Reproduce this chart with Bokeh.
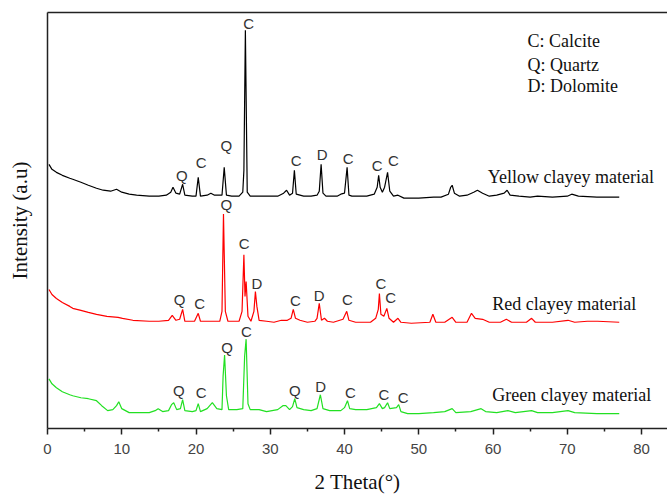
from bokeh.plotting import figure
from bokeh.models import Range1d, FixedTicker, ColumnDataSource, LinearAxis
from bokeh.core.properties import value
from bokeh.embed import file_html
from bokeh.resources import INLINE

# ---- data (2 Theta in degrees, intensity in arbitrary units, stacked) ----
yellow_x = [0.2, 0.6, 1.2, 2.0, 3.0, 3.4, 4.5, 5.5, 6.6, 7.5, 8.5, 9.3, 10.0, 11.0, 12.0, 13.7, 15.0, 16.0,
            16.6, 16.9, 17.3, 17.8, 18.2, 18.5, 19.5, 20.0, 20.3, 20.6, 21.5, 22.0, 22.5, 23.5, 23.8, 24.1,
            24.8, 25.8, 26.3, 26.45, 26.65, 26.9, 27.3, 29.0, 31.0, 31.8, 32.2, 32.6, 33.0, 33.25, 33.5,
            34.5, 35.5, 36.3, 36.6, 36.85, 37.1, 37.5, 39.0, 39.5, 40.0, 40.35, 40.6, 41.0, 43.0, 44.0,
            44.4, 44.6, 44.8, 45.1, 45.4, 45.8, 46.1, 46.6, 47.2, 48.0, 50.0, 52.0, 53.0, 54.0, 54.3, 54.5,
            54.8, 55.5, 56.5, 57.4, 57.9, 58.6, 59.5, 60.5, 61.5, 61.9, 62.3, 63.5, 65.0, 66.0, 68.0, 70.0,
            70.6, 71.5, 74.0, 77.0]
yellow_y = [266, 261, 258, 255, 252, 251, 248, 245, 242, 240, 239, 241, 238, 236, 235, 234, 234, 235,
            238, 243, 237, 236, 246, 235, 234, 234, 253, 234, 235, 237, 235, 235, 263, 235,
            234, 234, 238, 260, 401, 238, 234, 234, 234, 237, 240, 235, 237, 260, 236,
            234, 234, 235, 239, 266, 237, 234, 234, 236, 237, 263, 235, 234, 234, 236,
            243, 255, 243, 238, 243, 258, 239, 234, 235, 232, 232, 233, 233, 236, 243, 245,
            237, 234, 235, 238, 240, 237, 234, 235, 237, 240, 235, 234, 233, 234, 233, 234,
            236, 234, 233, 233]

red_x = [0.2, 0.6, 1.2, 2.0, 3.0, 3.4, 4.5, 5.5, 6.6, 8.0, 9.5, 10.1, 11.5, 13.7, 15.0, 16.3, 16.8, 17.3,
         17.8, 18.2, 18.5, 19.8, 20.3, 20.6, 22.0, 23.2, 23.5, 23.7, 23.95, 24.3, 25.8, 26.2, 26.45, 26.6,
         26.75, 27.0, 27.4, 27.8, 28.0, 28.2, 28.5, 29.5, 30.5, 31.5, 32.3, 32.8, 33.1, 33.4, 34.0, 35.0,
         36.0, 36.3, 36.6, 36.9, 37.3, 37.7, 38.5, 39.8, 40.3, 40.6, 41.5, 43.5, 44.2, 44.55, 44.7, 44.9,
         45.3, 45.7, 46.0, 46.6, 47.2, 47.6, 49.0, 51.5, 51.9, 52.3, 53.5, 54.5, 55.0, 56.5, 57.1, 57.6,
         58.6, 59.5, 61.0, 61.8, 62.5, 64.5, 65.2, 65.7, 68.0, 70.1, 71.0, 72.7, 74.1, 77.0]
red_y = [140, 135, 131, 127, 123, 121, 119, 117, 115, 113, 112, 111, 109, 108, 108, 109, 114, 109,
         110, 120, 108, 108, 116, 108, 108, 108, 118, 216, 118, 108, 108, 118, 175, 133,
         148, 113, 108, 118, 138, 123, 109, 108, 107, 109, 109, 111, 120, 111, 109, 107,
         108, 111, 126, 109, 111, 108, 107, 110, 118, 109, 107, 107, 111, 120, 136, 115,
         113, 121, 111, 107, 111, 107, 106, 107, 115, 107, 107, 112, 107, 107, 116, 111,
         110, 107, 107, 110, 107, 107, 111, 107, 107, 109, 107, 108, 108, 107]

green_x = [0.2, 0.6, 1.2, 2.0, 3.0, 3.4, 4.5, 5.5, 6.6, 7.3, 8.1, 8.8, 9.3, 9.6, 10.0, 11.0, 12.5, 13.7,
           14.5, 14.9, 15.5, 16.3, 16.7, 17.0, 17.4, 17.9, 18.2, 18.5, 19.5, 20.0, 20.3, 20.6, 21.5, 22.2,
           22.8, 23.5, 23.65, 23.85, 24.1, 24.4, 25.5, 26.3, 26.55, 26.75, 27.0, 27.3, 28.5, 29.5, 31.0,
           31.7, 32.1, 32.6, 33.0, 33.3, 33.6, 34.5, 35.5, 36.3, 36.75, 37.1, 38.0, 39.5, 40.0, 40.4, 40.7,
           41.5, 43.0, 44.3, 44.7, 45.1, 45.4, 45.8, 46.1, 47.0, 47.3, 47.6, 48.5, 50.0, 52.0, 53.5, 54.5,
           55.0, 57.0, 58.4, 59.0, 60.5, 62.0, 63.0, 65.2, 66.0, 68.0, 70.1, 71.0, 74.0, 77.0]
green_y = [50, 45, 41, 37, 34, 33, 31, 30, 28, 23, 18, 19, 23, 27, 20, 16, 16, 16,
           18, 20, 17, 18, 24, 26, 19, 20, 29, 18, 17, 18, 25, 17, 20, 26,
           20, 19, 53, 74, 33, 19, 19, 20, 73, 90, 25, 19, 19, 17, 19,
           23, 23, 19, 22, 30, 21, 19, 18, 20, 34, 20, 18, 18, 21, 28, 20,
           19, 19, 21, 25, 20, 21, 26, 20, 21, 24, 17, 15, 15, 16, 17, 20,
           16, 17, 20, 17, 16, 18, 16, 18, 16, 16, 18, 16, 15, 15]

# phase marks above the peaks: (2 Theta, intensity, letter)
yellow_marks_x = [18.1, 20.7, 24.1, 27.1, 33.5, 37.0, 40.5, 44.4, 46.6]
yellow_marks_y = [255, 268, 285, 408, 270, 276, 272, 265, 270]
yellow_marks_t = ["Q", "C", "Q", "C", "C", "D", "C", "C", "C"]

red_marks_x = [17.8, 20.5, 24.1, 26.5, 28.2, 33.4, 36.6, 40.4, 44.9, 46.2]
red_marks_y = [130, 126, 226, 186, 146, 129, 134, 130, 146, 132]
red_marks_t = ["Q", "C", "Q", "C", "D", "C", "D", "C", "C", "C"]

green_marks_x = [17.7, 20.7, 24.2, 26.8, 33.3, 36.8, 40.8, 45.3, 47.9]
green_marks_y = [38, 36, 82, 98, 38, 42, 36, 34, 31]
green_marks_t = ["Q", "C", "Q", "C", "Q", "D", "C", "C", "C"]

series_names = ["Yellow clayey material", "Red clayey material", "Green clayey material"]
series_name_x = [59.3, 59.9, 59.9]
series_name_y = [253, 125, 34]
series_colors = ["#000000", "#ff0000", "#22e022"]

legend_lines = ["C: Calcite", "Q: Quartz", "D: Dolomite"]
legend_x = [64.65, 64.65, 64.65]
legend_y = [390, 366, 345]

x_ticks = [0, 10, 20, 30, 40, 50, 60, 70, 80]

# ---- figure ----
p = figure(width=667, height=496, output_backend="svg", toolbar_location=None,
           x_range=Range1d(0, 83.5), y_range=Range1d(0, 419),
           min_border_left=47, min_border_right=0, min_border_top=12, min_border_bottom=65)
p.background_fill_color = "white"
p.border_fill_color = "white"
p.outline_line_color = None
p.xgrid.visible = False
p.ygrid.visible = False

p.line(yellow_x, yellow_y, line_color=series_colors[0], line_width=1.2)
p.line(red_x, red_y, line_color=series_colors[1], line_width=1.2)
p.line(green_x, green_y, line_color=series_colors[2], line_width=1.2)

marks = ColumnDataSource(dict(x=yellow_marks_x + red_marks_x + green_marks_x,
                              y=yellow_marks_y + red_marks_y + green_marks_y,
                              t=yellow_marks_t + red_marks_t + green_marks_t))
p.text(x="x", y="y", text="t", source=marks, text_font=value("Liberation Sans"),
       text_font_size="15px", text_color="#333333", text_align="center", text_baseline="middle")

p.text(x=series_name_x, y=series_name_y, text=series_names, text_font=value("Liberation Serif"),
       text_font_size="18px", text_color="#111111", text_align="left", text_baseline="middle")
p.text(x=legend_x, y=legend_y, text=legend_lines, text_font=value("Liberation Serif"),
       text_font_size="18px", text_color="#111111", text_align="left", text_baseline="middle")

# top frame line
top_axis = LinearAxis(ticker=FixedTicker(ticks=[]),
                      major_tick_line_color=None, minor_tick_line_color=None,
                      axis_line_color="#222222", axis_line_width=1.5)
p.add_layout(top_axis, "above")

# x axis
bx = p.below[0]
bx.ticker = FixedTicker(ticks=x_ticks, minor_ticks=[v + 5 for v in x_ticks])
bx.axis_label = "2 Theta(°)"
bx.axis_label_text_font = "Liberation Serif"
bx.axis_label_text_font_style = "normal"
bx.axis_label_text_font_size = "21px"
bx.axis_label_text_color = "#111111"
bx.axis_label_standoff = 13
bx.major_label_text_font = "Liberation Sans"
bx.major_label_text_font_size = "15px"
bx.major_label_text_color = "#444444"
bx.major_label_standoff = 9
bx.major_tick_out = 6
bx.major_tick_in = 0
bx.minor_tick_out = 3
bx.minor_tick_in = 0
bx.axis_line_color = "#222222"
bx.axis_line_width = 1.5
bx.major_tick_line_color = "#222222"
bx.major_tick_line_width = 1.5
bx.minor_tick_line_color = "#222222"
bx.minor_tick_line_width = 1.5

# y axis (no ticks)
ly = p.left[0]
ly.ticker = FixedTicker(ticks=[])
ly.axis_label = "Intensity (a.u)"
ly.axis_label_text_font = "Liberation Serif"
ly.axis_label_text_font_style = "normal"
ly.axis_label_text_font_size = "21px"
ly.axis_label_text_color = "#111111"
ly.axis_label_standoff = 16
ly.major_tick_line_color = None
ly.minor_tick_line_color = None
ly.axis_line_color = "#222222"
ly.axis_line_width = 1.5

open("out.html", "w").write(file_html(p, INLINE))
